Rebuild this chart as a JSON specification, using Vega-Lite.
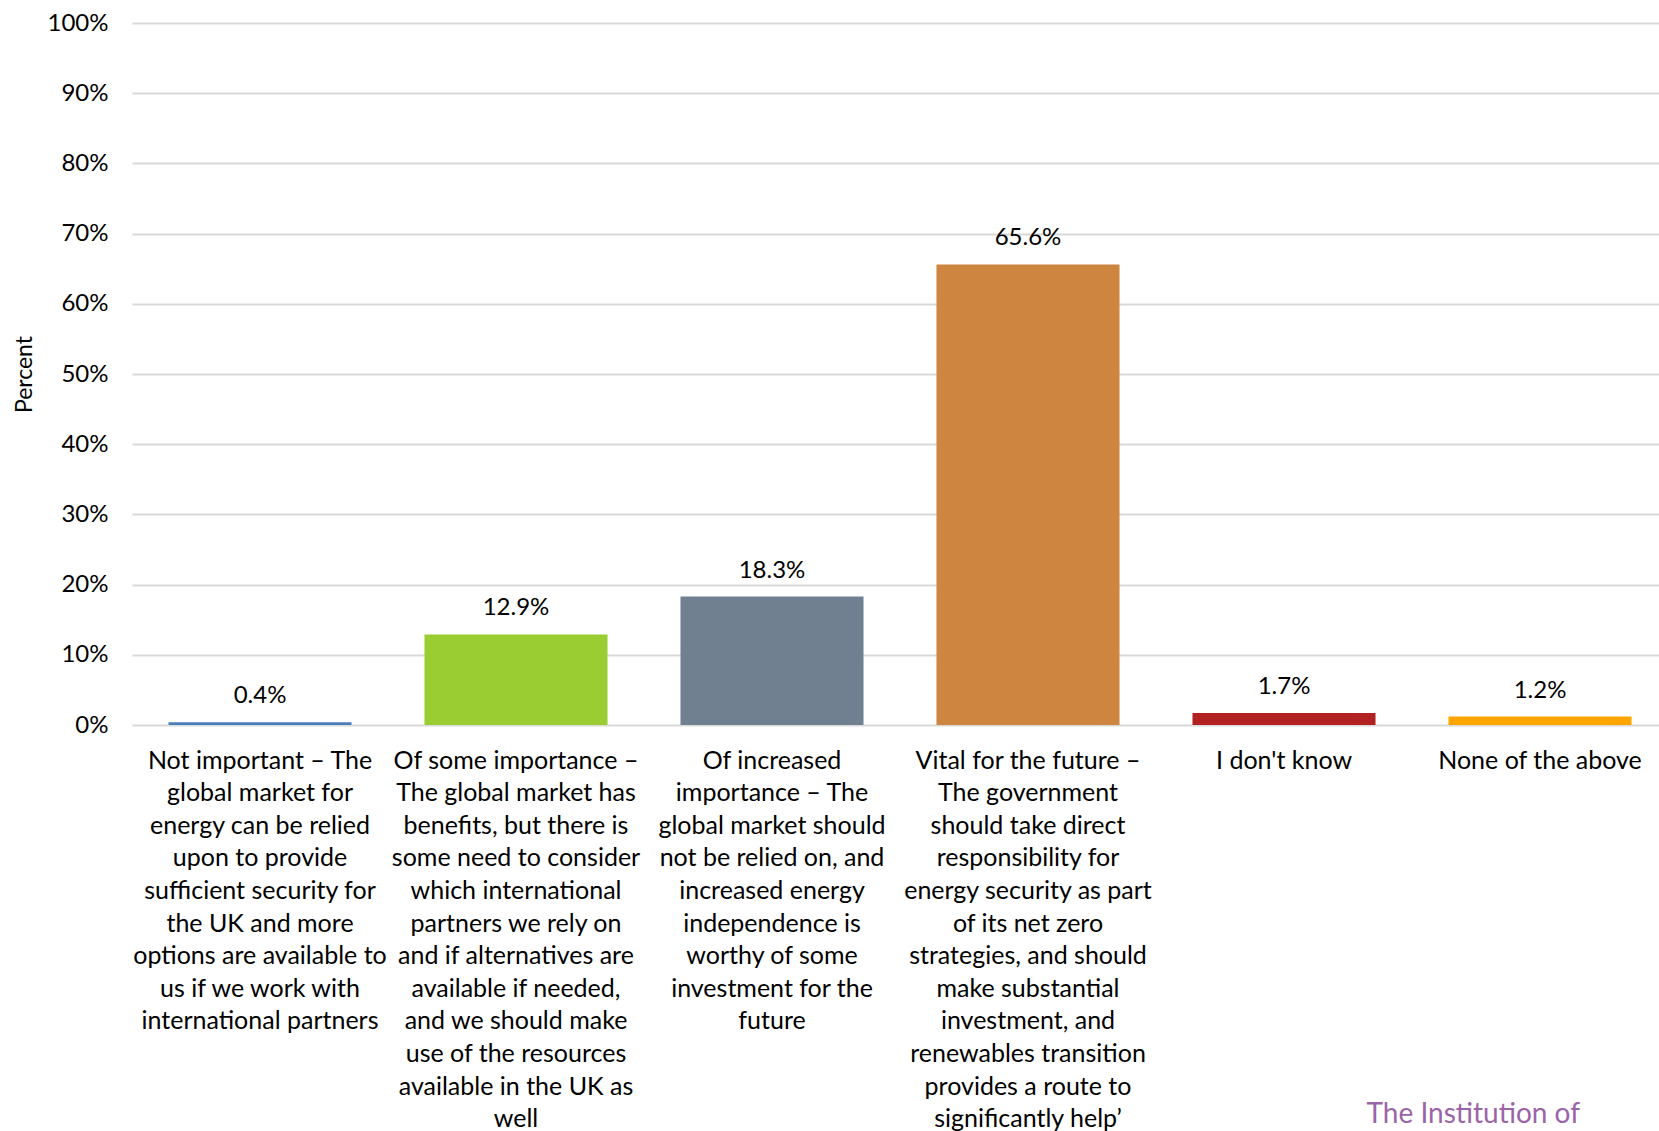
{
  "$schema": "https://vega.github.io/schema/vega-lite/v6.json",
  "autosize": {"type": "none"},
  "padding": {"left": 132, "top": 23, "right": 0, "bottom": 406},
  "width": 1536,
  "height": 702,
  "background": "white",
  "config": {
    "font": "Lato",
    "view": {"stroke": null}
  },
  "title": {
    "text": "The Institution of",
    "orient": "bottom",
    "anchor": "end",
    "dx": -88,
    "offset": -31,
    "color": "#9b64a8",
    "fontSize": 28,
    "fontWeight": "normal",
    "font": "Lato"
  },
  "data": {
    "values": [
      {"category": "Not important – The\nglobal market for\nenergy can be relied\nupon to provide\nsufficient security for\nthe UK and more\noptions are available to\nus if we work with\ninternational partners", "percent": 0.004, "color": "#4a7ebb"},
      {"category": "Of some importance –\nThe global market has\nbenefits, but there is\nsome need to consider\nwhich international\npartners we rely on\nand if alternatives are\navailable if needed,\nand we should make\nuse of the resources\navailable in the UK as\nwell", "percent": 0.129, "color": "#9acd32"},
      {"category": "Of increased\nimportance – The\nglobal market should\nnot be relied on, and\nincreased energy\nindependence is\nworthy of some\ninvestment for the\nfuture", "percent": 0.183, "color": "#708090"},
      {"category": "Vital for the future –\nThe government\nshould take direct\nresponsibility for\nenergy security as part\nof its net zero\nstrategies, and should\nmake substantial\ninvestment, and\nrenewables transition\nprovides a route to\nsignificantly help’", "percent": 0.656, "color": "#cd853f"},
      {"category": "I don't know", "percent": 0.017, "color": "#b22222"},
      {"category": "None of the above", "percent": 0.012, "color": "#ffa500"}
    ]
  },
  "encoding": {
    "x": {
      "field": "category",
      "type": "nominal",
      "sort": null,
      "scale": {"paddingInner": 0.285, "paddingOuter": 0.1425},
      "axis": {
        "title": null,
        "labelAngle": 0,
        "labelExpr": "split(datum.value, '\\n')",
        "labelFontSize": 25,
        "labelColor": "#000000",
        "labelLineHeight": 32.6,
        "labelPadding": 23,
        "labelLimit": 0,
        "labelAlign": "center",
        "labelBaseline": "top",
        "labelOverlap": false,
        "ticks": false,
        "domain": false
      }
    },
    "y": {
      "field": "percent",
      "type": "quantitative",
      "scale": {"domain": [0, 1]},
      "axis": {
        "title": "Percent",
        "titleFontSize": 23,
        "titleFontWeight": "normal",
        "titleColor": "#000000",
        "titlePadding": 11,
        "format": ".0%",
        "values": [0, 0.1, 0.2, 0.3, 0.4, 0.5, 0.6, 0.7, 0.8, 0.9, 1],
        "labelOverlap": false,
        "labelFontSize": 24,
        "labelColor": "#000000",
        "labelPadding": 24,
        "ticks": false,
        "domain": false,
        "grid": true,
        "gridColor": "#d9d9d9",
        "gridWidth": 2
      }
    }
  },
  "layer": [
    {
      "mark": {"type": "bar"},
      "encoding": {
        "color": {"field": "color", "type": "nominal", "scale": null, "legend": null}
      }
    },
    {
      "mark": {"type": "text", "baseline": "middle", "dy": -26, "fontSize": 24, "color": "#000000"},
      "encoding": {
        "text": {"field": "percent", "type": "quantitative", "format": ".1%"}
      }
    }
  ]
}
